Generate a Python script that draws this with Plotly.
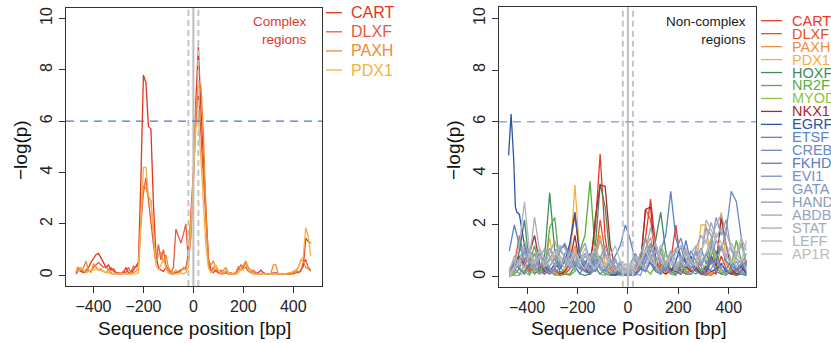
import plotly.graph_objects as go

W, H = 831, 343
FONT = "Liberation Sans, Arial, Helvetica, sans-serif"

# ---------------- Left panel: complex regions (x step 10 bp) ----------------
X_LEFT = list(range(-470, 471, 10))
LEFT_NAMES = ["CART", "DLXF", "PAXH", "PDX1"]
LEFT_COLORS = ["#e2361f", "#e95a3c", "#ef8b2f", "#f6b142"]

CART_L = [0.05, 0.2, 0.15, 0.1, 0.2, 0.3, 0.5, 0.65, 0.8, 0.85,
          0.7, 0.5, 0.3, 0.4, 0.2, 0.25, 0.1, 0.05, 0.05, 0.1,
          0.3, 0.1, 0.05, 0.2, 0.4, 0.5, 3.8, 7.8, 7.5, 5.8,
          5.7, 2.8, 0.8, 0.3, 0.2, 0.15, 0.3, 0.1, 0.05, 0.05,
          0.1, 0.15, 0.2, 0.25, 0.3, 0.8, 2.5, 4.0, 6.8, 8.9,
          6.5, 4.5, 2.5, 0.7, 0.2, 0.1, 0.2, 0.1, 0.05, 0.05,
          0.1, 0.05, 0.05, 0.05, 0.1, 0.3, 0.2, 0.35, 0.3, 0.15,
          0.1, 0.05, 0.05, 0.1, 0.2, 0.1, 0.05, 0.05, 0.05, 0.05,
          0.1, 0.05, 0.05, 0.05, 0.05, 0.05, 0.05, 0.05, 0.1, 0.1,
          0.2, 0.35, 1.45, 1.3, 1.25]
DLXF_L = [0.1, 0.3, 0.2, 0.15, 0.1, 0.2, 0.15, 0.3, 0.4, 0.5,
          0.4, 0.3, 0.35, 0.2, 0.3, 0.15, 0.1, 0.1, 0.05, 0.15,
          0.1, 0.3, 0.1, 0.35, 0.3, 0.4, 2.0, 3.2, 3.8, 2.9,
          2.0, 1.2, 0.5, 1.2, 0.6, 1.0, 0.4, 0.2, 0.1, 0.3,
          1.8, 1.5, 1.25, 1.6, 2.0, 0.5, 1.5, 3.8, 6.0, 7.2,
          5.5, 3.8, 2.0, 0.5, 0.15, 0.3, 0.15, 0.1, 0.2, 0.1,
          0.15, 0.05, 0.1, 0.05, 0.05, 0.2, 0.4, 0.25, 0.5, 0.2,
          0.1, 0.2, 0.1, 0.05, 0.05, 0.1, 0.05, 0.05, 0.05, 0.1,
          0.05, 0.05, 0.05, 0.05, 0.05, 0.05, 0.05, 0.1, 0.2, 0.1,
          0.15, 0.5, 0.6, 0.3, 0.2]
PAXH_L = [0.3, 0.25, 0.2, 0.3, 0.55, 0.2, 0.1, 0.45, 0.3, 0.2,
          0.25, 0.15, 0.1, 0.2, 0.1, 0.05, 0.05, 0.05, 0.1, 0.05,
          0.05, 0.05, 0.1, 0.1, 0.15, 0.3, 2.2, 3.5, 3.4, 3.0,
          2.9, 1.5, 0.5, 0.8, 0.9, 0.5, 0.8, 0.3, 0.15, 0.1,
          0.2, 0.1, 0.15, 0.3, 0.2, 0.7, 1.8, 3.5, 6.5, 7.5,
          7.4, 5.6, 2.5, 0.6, 0.4, 0.55, 0.3, 0.15, 0.1, 0.2,
          0.3, 0.1, 0.05, 0.05, 0.05, 0.35, 0.2, 0.4, 0.55, 0.3,
          0.2, 0.1, 0.05, 0.05, 0.05, 0.05, 0.05, 0.05, 0.05, 0.4,
          0.4, 0.05, 0.05, 0.05, 0.05, 0.05, 0.05, 0.1, 0.1, 0.3,
          0.6, 0.55, 0.3, 0.25, 0.15]
PDX1_L = [0.2, 0.15, 0.3, 0.2, 0.1, 0.15, 0.2, 0.2, 0.25, 0.2,
          0.2, 0.15, 0.1, 0.1, 0.05, 0.05, 0.05, 0.05, 0.05, 0.05,
          0.05, 0.05, 0.05, 0.05, 0.05, 0.1, 2.5, 4.2, 4.2, 3.1,
          2.9, 1.8, 0.4, 0.2, 0.4, 0.6, 0.3, 0.1, 0.05, 0.05,
          0.05, 0.05, 0.1, 0.05, 0.1, 0.3, 2.0, 4.0, 5.8, 6.2,
          4.5, 3.0, 1.2, 0.3, 0.1, 0.2, 0.4, 0.2, 0.05, 0.05,
          0.2, 0.05, 0.05, 0.05, 0.05, 0.1, 0.25, 0.2, 0.45, 0.2,
          0.1, 0.05, 0.05, 0.05, 0.05, 0.05, 0.05, 0.05, 0.05, 0.05,
          0.05, 0.05, 0.05, 0.05, 0.05, 0.1, 0.1, 0.15, 0.2, 0.3,
          0.6, 0.7, 1.85, 1.5, 0.75]
LEFT_VALUES = [CART_L, DLXF_L, PAXH_L, PDX1_L]

# ---------------- Right panel: non-complex regions (x step 20 bp) ----------------
X_RIGHT = list(range(-470, 471, 20))
RIGHT_NAMES = ["CART", "DLXF", "PAXH", "PDX1", "HOXF", "NR2F", "MYOD", "NKX1", "EGRF",
               "ETSF", "CREB", "FKHD", "EVI1", "GATA", "HAND", "ABDB", "STAT", "LEFF", "AP1R"]
RIGHT_COLORS = ["#e8392a", "#eb4f26", "#f09040", "#f7b040", "#3f8b5e", "#5aae3c", "#8cc43e",
                "#a8292b", "#2b53a8", "#5b83c6", "#6a8bc8", "#5c7dc0", "#7890c2", "#8398c1",
                "#8c9bbb", "#9aa5bb", "#a5abb6", "#b0b4ba", "#bcbcbc"]

CART_R = [0.1, 0.3, 0.8, 0.5, 0.2, 0.4, 0.1, 0.3, 0.2, 0.1, 0.05, 0.1, 0.3, 0.9, 0.4, 0.2,
          0.6, 1.8, 4.75, 1.5, 0.4, 0.2, 0.1, 0.05, 0.1, 0.3, 0.8, 1.5, 3.0, 1.2, 0.4, 0.2,
          0.6, 2.0, 0.5, 0.2, 0.1, 0.3, 0.1, 0.05, 0.2, 0.1, 0.8, 0.3, 0.1, 0.2, 0.4, 0.6]
DLXF_R = [0.0, 0.5, 1.6, 0.6, 0.3, 0.2, 0.4, 0.1, 0.3, 0.2, 0.1, 0.3, 1.1, 2.4, 0.8, 0.3,
          0.2, 0.5, 2.2, 0.9, 0.3, 0.1, 0.05, 0.1, 0.05, 0.2, 0.4, 2.6, 2.2, 0.7, 0.3, 0.1,
          0.2, 0.5, 0.2, 0.1, 0.3, 0.6, 0.2, 0.1, 0.05, 0.2, 0.5, 0.2, 0.1, 0.05, 0.2, 0.1]
PAXH_R = [0.1, 0.2, 0.6, 0.3, 0.8, 0.4, 0.2, 0.6, 0.3, 0.1, 0.2, 0.1, 0.5, 1.2, 0.3, 0.2,
          0.4, 1.0, 1.6, 0.5, 0.2, 0.1, 0.2, 0.1, 0.05, 0.3, 0.5, 1.1, 1.5, 0.6, 0.3, 0.1,
          0.2, 0.4, 0.1, 0.3, 0.2, 0.4, 0.6, 0.2, 0.1, 0.3, 1.2, 0.5, 0.2, 0.1, 0.3, 0.2]
PDX1_R = [0.05, 0.1, 0.3, 0.2, 0.5, 0.2, 0.1, 0.4, 1.5, 0.3, 0.1, 0.2, 0.6, 3.55, 0.8, 0.3,
          0.1, 0.6, 1.5, 0.4, 0.2, 0.1, 0.05, 0.1, 0.2, 0.1, 0.3, 0.6, 0.9, 0.4, 0.2, 0.1,
          0.3, 0.2, 0.1, 0.4, 0.2, 0.3, 2.0, 2.0, 0.5, 0.3, 2.5, 0.6, 0.2, 0.1, 0.3, 0.1]
HOXF_R = [0.05, 0.2, 1.0, 2.2, 0.4, 0.1, 0.3, 0.8, 3.25, 1.0, 0.2, 0.1, 0.1, 0.4, 0.1, 0.05,
          0.1, 1.0, 3.6, 2.7, 0.6, 0.1, 0.05, 0.05, 0.05, 0.1, 0.3, 0.6, 1.0, 1.4, 2.5, 1.0,
          0.2, 0.1, 0.3, 0.1, 0.1, 0.4, 0.2, 0.1, 0.6, 1.0, 0.3, 0.1, 0.2, 0.05, 0.1, 0.05]
NR2F_R = [0.0, 0.1, 0.3, 0.2, 0.5, 1.2, 0.3, 0.2, 1.9, 2.3, 0.4, 0.1, 0.05, 0.2, 1.0, 1.6,
          3.7, 1.0, 0.3, 0.1, 0.05, 0.05, 0.1, 0.05, 0.05, 0.1, 0.9, 0.3, 0.1, 0.4, 1.2, 0.4,
          0.1, 0.05, 0.5, 0.7, 0.2, 0.1, 0.3, 0.1, 1.2, 0.4, 0.1, 0.05, 0.4, 1.4, 0.6, 0.1]
MYOD_R = [0.05, 0.05, 0.05, 0.2, 0.05, 0.3, 0.1, 0.6, 0.2, 0.05, 0.1, 0.3, 0.6, 0.2, 0.8, 0.3,
          0.1, 0.3, 0.1, 0.05, 0.2, 0.05, 0.05, 0.05, 0.05, 0.2, 0.8, 0.3, 0.1, 0.5, 0.2, 1.0,
          0.3, 0.1, 0.4, 0.2, 0.7, 0.3, 0.1, 0.5, 1.4, 0.6, 0.2, 0.05, 0.3, 0.8, 1.3, 0.4]
NKX1_R = [0.05, 0.3, 0.8, 0.4, 0.9, 1.6, 0.5, 0.2, 0.1, 0.3, 0.1, 0.2, 0.6, 1.6, 0.4, 0.2,
          0.1, 2.2, 3.55, 3.5, 1.2, 0.3, 0.1, 0.05, 0.1, 0.2, 0.5, 2.6, 2.7, 0.6, 0.2, 0.1,
          0.3, 0.2, 0.1, 0.4, 0.2, 0.3, 0.1, 0.2, 0.8, 0.4, 2.3, 1.2, 0.3, 0.1, 0.2, 0.6]
EGRF_X = [-473, -463, -453, -446, -440, -430] + list(range(-410, 471, 20))
EGRF_R = [4.7, 6.3, 4.6, 2.7, 2.5, 2.4,
          1.2, 0.6, 0.3, 0.8, 0.4, 0.2, 0.5, 0.3, 0.6, 1.3, 2.5, 0.7, 0.3, 0.1,
          0.3, 0.8, 0.3, 0.1, 0.05, 0.2, 0.1, 0.05, 0.1, 0.3, 0.2, 0.6, 0.3, 0.1,
          0.4, 0.2, 0.6, 1.2, 0.5, 0.8, 0.3, 0.1, 0.4, 0.2, 0.3, 0.5, 0.2, 0.1, 0.3, 0.4, 0.1]
ETSF_R = [1.0, 2.0, 1.2, 0.6, 1.1, 0.5, 0.9, 0.4, 0.7, 1.0, 1.1, 1.2, 0.9, 0.5, 0.3, 0.6,
          0.4, 0.2, 0.5, 0.9, 0.4, 0.8, 1.2, 2.0, 1.4, 0.6, 0.3, 0.8, 1.3, 0.6, 1.0, 1.6,
          3.3, 1.5, 0.8, 0.5, 1.0, 0.6, 0.4, 0.9, 0.5, 0.7, 1.2, 0.6, 0.4, 0.3, 0.5, 0.2]
CREB_R = [0.2, 0.6, 0.3, 1.0, 0.5, 0.3, 0.8, 0.6, 0.2, 0.4, 1.0, 1.3, 0.7, 0.4, 0.9, 0.5,
          0.3, 0.7, 0.4, 0.2, 0.6, 0.3, 0.1, 0.3, 0.5, 0.9, 0.4, 0.2, 0.7, 1.1, 0.5, 0.3,
          0.6, 1.0, 1.5, 0.7, 0.3, 0.6, 1.1, 0.5, 0.8, 1.4, 1.0, 1.8, 3.3, 2.9, 1.5, 0.4]
FKHD_R = [0.1, 0.6, 0.3, 0.1, 0.5, 0.9, 0.2, 0.1, 0.4, 0.7, 0.3, 0.9, 1.0, 0.4, 0.1, 0.5,
          0.9, 0.4, 0.1, 0.3, 0.7, 0.2, 0.1, 0.05, 0.1, 0.05, 0.3, 0.9, 0.5, 0.2, 0.1, 0.6,
          0.2, 0.1, 0.4, 1.4, 0.5, 0.2, 0.1, 0.3, 0.7, 0.2, 0.1, 0.3, 0.6, 0.3, 0.1, 0.05]
EVI1_R = [0.05, 0.2, 0.6, 0.4, 0.1, 0.5, 0.9, 0.3, 0.1, 0.3, 0.6, 0.3, 0.7, 1.0, 0.4, 0.2,
          0.1, 0.3, 0.8, 0.3, 0.1, 0.2, 0.5, 0.2, 0.05, 0.2, 0.6, 1.5, 0.8, 0.3, 0.1, 0.3,
          0.7, 0.3, 0.1, 0.5, 0.3, 1.0, 0.4, 0.1, 0.3, 0.6, 0.3, 0.9, 0.4, 0.2, 0.1, 0.1]
GATA_R = [0.1, 0.3, 0.1, 0.5, 1.1, 0.4, 0.1, 0.7, 0.3, 0.1, 0.4, 0.7, 0.3, 0.5, 0.9, 0.4,
          0.2, 0.6, 0.3, 0.1, 0.4, 0.7, 0.2, 0.1, 0.3, 0.1, 0.05, 0.6, 1.3, 0.5, 0.2, 0.4,
          0.1, 0.3, 0.6, 0.2, 0.1, 0.4, 0.8, 1.9, 1.6, 0.8, 0.3, 0.1, 0.3, 0.6, 0.2, 0.1]
HAND_R = [0.1, 0.3, 0.7, 1.1, 0.5, 0.9, 0.4, 0.6, 1.1, 0.7, 1.0, 0.8, 0.4, 0.6, 0.9, 1.3,
          0.6, 0.3, 0.7, 1.2, 0.6, 0.3, 0.6, 0.3, 0.1, 0.4, 0.7, 0.5, 1.2, 0.7, 0.9, 0.5,
          1.0, 0.6, 0.4, 1.0, 0.6, 0.9, 0.4, 0.8, 1.2, 2.3, 1.6, 2.2, 1.0, 0.7, 0.5, 0.9]
ABDB_R = [0.3, 0.6, 0.4, 0.9, 0.6, 0.3, 0.7, 1.1, 0.8, 0.4, 1.2, 1.1, 0.6, 0.3, 0.6, 0.9,
          0.5, 0.8, 1.4, 0.9, 0.4, 0.6, 0.3, 0.1, 0.3, 0.7, 0.4, 1.0, 1.9, 1.2, 0.6, 0.9,
          0.5, 0.3, 0.6, 0.9, 0.5, 1.1, 1.6, 1.3, 2.1, 1.5, 1.9, 1.2, 0.6, 0.4, 0.7, 0.3]
STAT_R = [0.2, 0.8, 0.5, 1.4, 0.7, 2.3, 1.0, 0.5, 0.9, 1.4, 0.8, 0.5, 1.0, 0.7, 0.4, 0.8,
          0.6, 1.0, 0.5, 0.3, 0.7, 0.4, 0.2, 0.5, 0.2, 0.5, 0.9, 1.4, 0.7, 1.0, 0.6, 0.4,
          0.8, 1.1, 0.6, 0.4, 0.9, 1.2, 0.6, 0.9, 1.5, 2.0, 2.4, 1.7, 1.1, 0.8, 1.2, 0.6]
LEFF_R = [0.1, 0.4, 1.3, 2.9, 1.0, 0.6, 1.1, 0.7, 0.4, 0.8, 1.2, 0.7, 0.4, 0.9, 0.5, 0.3,
          0.7, 1.2, 0.6, 0.8, 0.5, 0.2, 0.4, 0.2, 0.4, 0.8, 0.5, 0.3, 0.9, 1.3, 0.7, 0.5,
          0.9, 0.4, 0.7, 1.1, 0.6, 0.4, 0.8, 2.2, 1.8, 1.4, 1.1, 0.7, 1.3, 0.9, 1.5, 1.0]
AP1R_R = [0.0, 0.3, 0.6, 0.3, 0.9, 0.5, 0.8, 0.4, 0.6, 1.0, 0.7, 0.3, 0.6, 1.0, 0.6, 1.1,
          0.5, 0.3, 0.6, 0.4, 0.8, 1.2, 0.6, 0.3, 0.5, 0.2, 0.6, 1.0, 0.6, 0.4, 1.2, 0.8,
          0.5, 0.9, 1.2, 0.7, 0.4, 0.6, 1.0, 1.4, 0.9, 1.7, 1.3, 0.8, 0.5, 0.9, 0.6, 1.4]
RIGHT_VALUES = [CART_R, DLXF_R, PAXH_R, PDX1_R, HOXF_R, NR2F_R, MYOD_R, NKX1_R, EGRF_R,
                ETSF_R, CREB_R, FKHD_R, EVI1_R, GATA_R, HAND_R, ABDB_R, STAT_R, LEFF_R, AP1R_R]

X_TICKS = [-400, -200, 0, 200, 400]
Y_TICKS = [0, 2, 4, 6, 8, 10]
THRESHOLD = 6


def px(xp):
    return xp / W


def py(yp):
    return 1 - yp / H


fig = go.Figure()

# drawn in legend order (later series on top)
for name, col, vals in zip(LEFT_NAMES, LEFT_COLORS, LEFT_VALUES):
    fig.add_trace(go.Scatter(x=X_LEFT, y=vals, mode="lines", xaxis="x", yaxis="y",
                             line=dict(color=col, width=1.3), showlegend=False,
                             hoverinfo="skip"))

for name, col, vals in zip(RIGHT_NAMES, RIGHT_COLORS, RIGHT_VALUES):
    xs = EGRF_X if name == "EGRF" else X_RIGHT
    fig.add_trace(go.Scatter(x=xs, y=vals, mode="lines", xaxis="x2", yaxis="y2",
                             line=dict(color=col, width=1.3), showlegend=False,
                             hoverinfo="skip"))

axis_common = dict(showline=True, mirror=True, linecolor="#333333", linewidth=1.4,
                   ticks="outside", ticklen=6, tickwidth=1.2, tickcolor="#333333",
                   showgrid=False, zeroline=False,
                   tickfont=dict(family=FONT, size=16, color="#222222"))

fig.update_layout(
    width=W, height=H, margin=dict(l=0, r=0, t=0, b=0),
    paper_bgcolor="white", plot_bgcolor="white",
    xaxis=dict(domain=[px(66), px(322)], range=[-510, 515], tickvals=X_TICKS,
               anchor="y", **axis_common),
    yaxis=dict(domain=[py(286), py(8)], range=[-0.42, 10.41], tickvals=Y_TICKS,
               tickangle=-90, anchor="x", **axis_common),
    xaxis2=dict(domain=[px(499), px(756)], range=[-511, 508], tickvals=X_TICKS,
                anchor="y2", **axis_common),
    yaxis2=dict(domain=[py(286.7), py(7.3)], range=[-0.39, 10.43], tickvals=Y_TICKS,
                tickangle=-90, anchor="x2", **axis_common),
)

shapes = []
# vertical reference lines
for xr, yr in (("x", "y domain"), ("x2", "y2 domain")):
    shapes.append(dict(type="line", xref=xr, yref=yr, x0=0, x1=0, y0=0, y1=1,
                       line=dict(color="#bdbdbd", width=2), layer="above"))
    for xv in (-20, 20):
        shapes.append(dict(type="line", xref=xr, yref=yr, x0=xv, x1=xv, y0=0, y1=1,
                           line=dict(color="#c4c4c4", width=2, dash="6px,4px"), layer="above"))
# threshold lines
shapes.append(dict(type="line", xref="x domain", yref="y", x0=0, x1=1, y0=THRESHOLD, y1=THRESHOLD,
                   line=dict(color="#4f76d0", width=1.3, dash="8px,6px"), layer="above"))
shapes.append(dict(type="line", xref="x2 domain", yref="y2", x0=0, x1=1, y0=THRESHOLD, y1=THRESHOLD,
                   line=dict(color="#8ea8e0", width=1.4, dash="8px,6px"), layer="above"))

annotations = []
# left legend
for i, (name, col) in enumerate(zip(LEFT_NAMES, LEFT_COLORS)):
    yc = 12.7 + 19.1 * i
    shapes.append(dict(type="line", xref="paper", yref="paper", x0=px(326), x1=px(342),
                       y0=py(yc), y1=py(yc), line=dict(color=col, width=1.3)))
    annotations.append(dict(x=px(349), y=py(yc), xref="paper", yref="paper", text=name,
                            showarrow=False, xanchor="left", yanchor="middle",
                            font=dict(family=FONT, size=16, color=col)))
# right legend
for i, (name, col) in enumerate(zip(RIGHT_NAMES, RIGHT_COLORS)):
    yc = 20.7 + 12.96 * i
    shapes.append(dict(type="line", xref="paper", yref="paper", x0=px(761), x1=px(782),
                       y0=py(yc), y1=py(yc), line=dict(color=col, width=1.3)))
    annotations.append(dict(x=px(790), y=py(yc), xref="paper", yref="paper", text=name,
                            showarrow=False, xanchor="left", yanchor="middle",
                            font=dict(family=FONT, size=14.5, color=col)))

# panel captions
annotations.append(dict(x=px(309), y=py(31), xref="paper", yref="paper",
                        text="Complex<br>regions", showarrow=False, xanchor="right",
                        yanchor="middle", align="right",
                        font=dict(family=FONT, size=13.5, color="#e2361f")))
annotations.append(dict(x=px(748), y=py(31), xref="paper", yref="paper",
                        text="Non-complex<br>regions", showarrow=False, xanchor="right",
                        yanchor="middle", align="right",
                        font=dict(family=FONT, size=13.5, color="#1a1a1a")))

# axis titles
annotations.append(dict(x=px(194), y=py(328), xref="paper", yref="paper",
                        text="Sequence position [bp]", showarrow=False,
                        xanchor="center", yanchor="middle",
                        font=dict(family=FONT, size=19, color="#111111")))
annotations.append(dict(x=px(628), y=py(328), xref="paper", yref="paper",
                        text="Sequence Position [bp]", showarrow=False,
                        xanchor="center", yanchor="middle",
                        font=dict(family=FONT, size=19, color="#111111")))
annotations.append(dict(x=px(20), y=py(150), xref="paper", yref="paper",
                        text="\u2212log(p)", showarrow=False, textangle=-90,
                        xanchor="center", yanchor="middle",
                        font=dict(family=FONT, size=19, color="#111111")))
annotations.append(dict(x=px(453), y=py(150), xref="paper", yref="paper",
                        text="\u2212log(p)", showarrow=False, textangle=-90,
                        xanchor="center", yanchor="middle",
                        font=dict(family=FONT, size=19, color="#111111")))

fig.update_layout(shapes=shapes, annotations=annotations)
fig.write_html("out.html")
